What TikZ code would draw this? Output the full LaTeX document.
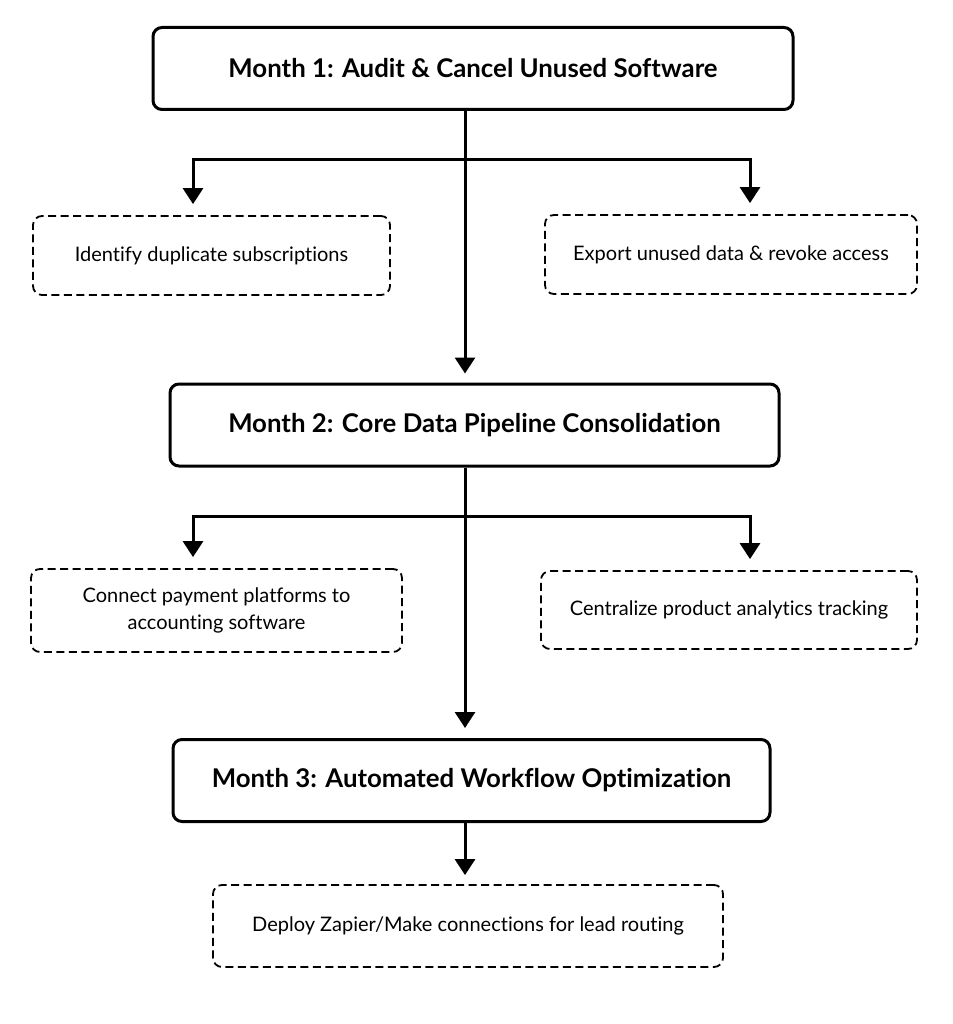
\documentclass[tikz,border=0pt]{standalone}
\usepackage{fontspec}
\setmainfont{Lato}[Ligatures={NoCommon,NoRare}]
\usetikzlibrary{arrows.meta, positioning}

\begin{document}
\begin{tikzpicture}[x=1pt,y=-1pt,
    month/.style={draw, line width=3pt, rounded corners=9pt, fill=white,
        font=\fontsize{25.8}{30}\selectfont\bfseries, minimum height=82pt},
    task/.style={draw, line width=1.8pt, dash pattern=on 8pt off 4.5pt, rounded corners=9pt,
        font=\fontsize{20}{27}\selectfont, align=center, minimum height=80pt},
    link/.style={line width=3pt},
    arr/.style={line width=3pt, -{Triangle[length=16pt,width=20pt]}}]

    \useasboundingbox (0,0) rectangle (952,1024);

    % Month boxes
    \node[month, minimum width=640pt] (m1) at (473,68.5) {Month 1: Audit \& Cancel Unused Software};
    \node[month, minimum width=609pt] (m2) at (474.5,425) {Month 2: Core Data Pipeline Consolidation};
    \node[month, minimum width=597pt] (m3) at (471.5,780.5) {Month 3: Automated Workflow Optimization};

    % Task boxes
    \node[task, minimum width=357pt, minimum height=79pt] (s1l) at (211.5,255.5) {Identify duplicate subscriptions};
    \node[task, minimum width=372pt, minimum height=79pt] (s1r) at (731,254.5) {Export unused data \& revoke access};
    \node[task, minimum width=371pt, minimum height=83pt] (s2l) at (216.5,610.5) {Connect payment platforms to\\accounting software};
    \node[task, minimum width=376pt, minimum height=78pt] (s2r) at (729,610) {Centralize product analytics tracking};
    \node[task, minimum width=510pt, minimum height=82pt] (s3) at (468,926) {Deploy Zapier/Make connections for lead routing};

    % Junctions
    \coordinate (j1) at (465,160);
    \coordinate (j1l) at (193,160);
    \coordinate (j1r) at (750,160);
    \coordinate (j2) at (465,516);
    \coordinate (j2l) at (193,516);
    \coordinate (j2r) at (750,516);

    % Trunk
    \draw[link] (m1.south -| j1) -- (j1);
    \draw[arr, shorten >=9pt] (j1) -- (j1 |- m2.north);
    \draw[link] (m2.south -| j2) -- (j2);
    \draw[arr, shorten >=10pt] (j2) -- (j2 |- m3.north);
    \draw[arr, shorten >=9pt] (j2 |- m3.south) -- (j2 |- s3.north);

    % Branches
    \draw[arr, shorten >=11pt] (j1) -- (j1l) -- (j1l |- s1l.north);
    \draw[arr, shorten >=11pt] (j1) -- (j1r) -- (j1r |- s1r.north);
    \draw[arr, shorten >=11pt] (j2) -- (j2l) -- (j2l |- s2l.north);
    \draw[arr, shorten >=11pt] (j2) -- (j2r) -- (j2r |- s2r.north);

\end{tikzpicture}
\end{document}
